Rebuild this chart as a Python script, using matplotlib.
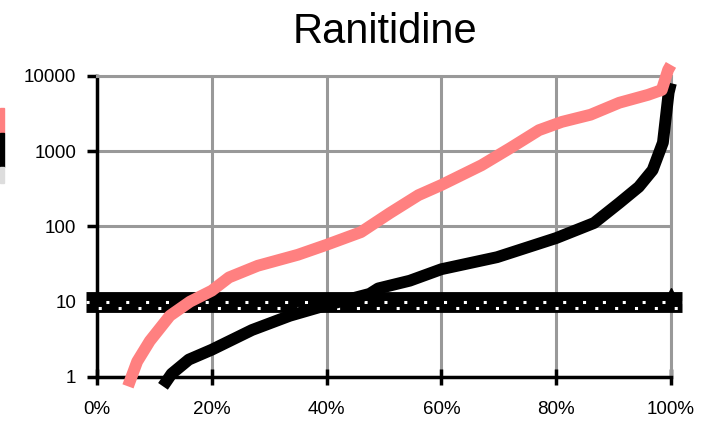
import matplotlib
matplotlib.use("Agg")
import matplotlib.pyplot as plt
from matplotlib.patches import Rectangle
from matplotlib.ticker import FixedLocator, FuncFormatter

plt.rcParams['font.family'] = ['Liberation Sans', 'DejaVu Sans']

title = "Ranitidine"

# percentile (%) and value for the pink series
pink_pct = [5.4, 7.0, 9.2, 12.7, 16.2, 20, 23, 28, 35, 40, 46, 51, 56, 60, 67, 72, 77, 81, 86, 91, 96, 98.4, 99.5, 100]
pink_val = [0.75, 1.6, 3.0, 6.5, 10, 14, 21, 30, 42, 57, 84, 150, 260, 355, 650, 1100, 1900, 2450, 3050, 4400, 5600, 6500, 12000, 14000]

# percentile (%) and value for the black series
black_pct = [11.5, 13, 16, 20, 27, 33.6, 40, 47.5, 49, 54.5, 60, 69.7, 80, 86.6, 91, 94.4, 96.8, 98.6, 99.6, 100]
black_val = [0.75, 1.1, 1.7, 2.3, 4.2, 6.5, 9, 12.7, 15, 19, 27, 39, 70, 111, 205, 335, 560, 1300, 6000, 8000]

# reference band (constant series around 10)
ref_pct = [-2, 102]
ref_mid = [9.9, 9.9]
ref_row_a = [10.0, 10.0]
ref_row_b = [8.2, 8.2]

y_ticks = [1, 10, 100, 1000, 10000]
x_ticks = [0, 20, 40, 60, 80, 100]
x_labels = ["0%", "20%", "40%", "60%", "80%", "100%"]

fig = plt.figure(figsize=(7.10, 4.24), dpi=100)
ax = fig.add_axes([0.1366, 0.111, 0.8084, 0.710])
ax.set_yscale('log')
ax.set_xlim(0, 100)
ax.set_ylim(1, 10000)

ax.grid(True, color='#999999', linewidth=2.2, which='major')
ax.set_axisbelow(True)

# reference band
ax.plot(ref_pct, ref_mid, color='black', lw=15, solid_capstyle='butt', clip_on=False, zorder=3)
ax.plot(ref_pct, ref_row_a, color='white', lw=2.2, ls=(0, (1, 5.5)), clip_on=False, zorder=4)
ax.plot(ref_pct, ref_row_b, color='white', lw=2.2, ls=(2.5, (1, 5.5)), clip_on=False, zorder=4)
ax.plot([100], [13], marker='^', color='black', markersize=7, clip_on=False, zorder=4)

ax.plot(black_pct, black_val, color='black', lw=8.5, solid_capstyle='butt', clip_on=False, zorder=5)
ax.plot(pink_pct, pink_val, color='#FF8080', lw=8.5, solid_capstyle='butt', clip_on=False, zorder=6)

for s in ['top', 'right']:
    ax.spines[s].set_color('#999999')
    ax.spines[s].set_linewidth(2.2)
for s in ['left', 'bottom']:
    ax.spines[s].set_color('black')
    ax.spines[s].set_linewidth(2.5)

ax.yaxis.set_major_locator(FixedLocator(y_ticks))
ax.yaxis.set_minor_locator(FixedLocator([]))
ax.yaxis.set_major_formatter(FuncFormatter(lambda v, p: f"{int(round(v))}"))
ax.set_xticks(x_ticks)
ax.set_xticklabels(x_labels)
ax.tick_params(axis='y', direction='out', length=7, width=2.5, pad=8, labelsize=13.5)
ax.tick_params(axis='x', direction='inout', length=12, width=2.5, pad=11, labelsize=13.5)

fig.text(0.542, 0.925, title, ha='center', va='center', fontsize=30)

# legend fragments at the left edge
fig.patches.append(Rectangle((0, 1 - 133/424), 4/710, 25/424, transform=fig.transFigure, color='#FF8080'))
fig.patches.append(Rectangle((0, 1 - 167/424), 4/710, 34/424, transform=fig.transFigure, color='black'))
fig.patches.append(Rectangle((0, 1 - 183/424), 4/710, 16/424, transform=fig.transFigure, color='#DDDDDD'))

fig.savefig("out.png", dpi=100)
